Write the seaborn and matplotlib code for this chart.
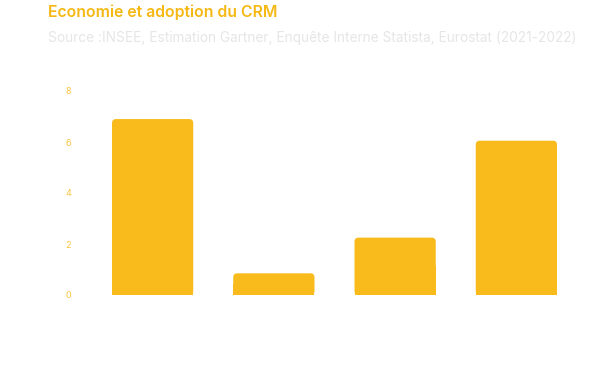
import numpy as np
import pandas as pd
import matplotlib
matplotlib.use("Agg")
import matplotlib.pyplot as plt
import seaborn as sns
from matplotlib.patches import FancyBboxPatch, Rectangle

# Data
categories = ["A", "B", "C", "D"]
values = [6.9, 0.85, 2.25, 6.05]
y_ticks = [0, 2, 4, 6, 8]

bar_color = "#F8BB1B"
title_color = "#F5B814"
sub_color = "#E6E6E6"

sns.set_theme(style="white")
plt.rcParams['font.family'] = ['Inter', 'DejaVu Sans']

df = pd.DataFrame({"cat": categories, "val": values})

fig = plt.figure(figsize=(5.95, 3.73), dpi=100)
ax = fig.add_axes([92 / 595, 1 - 295 / 373, 485 / 595, 204 / 373])

sns.barplot(data=df, x="cat", y="val", color=bar_color, width=0.67,
            saturation=1, ax=ax)
ax.set_ylim(0, 8)
ax.set_xlim(-0.5, len(categories) - 0.5)
ax.set_yticks(y_ticks)
ax.set_yticklabels([str(t) for t in y_ticks], fontsize=6.5, color="#F9C440")
ax.tick_params(axis='y', length=0, pad=15)
ax.set_xticks([])
ax.set_xlabel("")
ax.set_ylabel("")
sns.despine(ax=ax, left=True, bottom=True)

# rounded top corners
fig.canvas.draw()
x0, y0 = ax.transData.transform((0, 0))
x1, y1 = ax.transData.transform((1, 1))
px_x = 1 / (x1 - x0)
px_y = 1 / (y1 - y0)
r = 4 * px_x
for p in list(ax.patches):
    bx, by, bw, bh = p.get_x(), p.get_y(), p.get_width(), p.get_height()
    p.set_visible(False)
    ax.add_patch(FancyBboxPatch((bx, by), bw, bh,
                                boxstyle=f"round,pad=0,rounding_size={r}",
                                mutation_aspect=px_y / px_x,
                                fc=bar_color, ec="none"))
    ax.add_patch(Rectangle((bx, by), bw, bh / 2,
                           fc=bar_color, ec="none"))

fig.text(48 / 595, 1 - 12 / 373, "Economie et adoption du CRM",
         fontsize=11.4, fontweight="semibold", color=title_color, va="center")
fig.text(48 / 595, 1 - 38 / 373,
         "Source :INSEE, Estimation Gartner, Enquête Interne Statista, Eurostat (2021-2022)",
         fontsize=9.85, color=sub_color, va="center")

fig.savefig("out.png", dpi=100, facecolor="white")
